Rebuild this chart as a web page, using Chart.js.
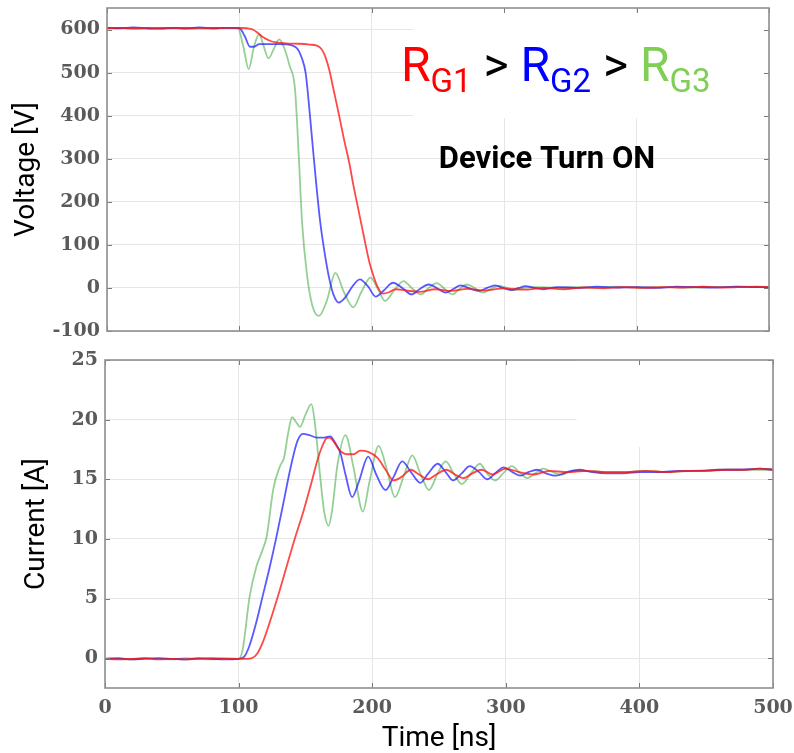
<!DOCTYPE html>
<html><head><meta charset="utf-8">
<script src="https://cdn.jsdelivr.net/npm/chart.js@4.4.1/dist/chart.umd.min.js"></script>
<style>
html,body{margin:0;padding:0;background:#fff;}
#wrap{position:relative;width:794px;height:753px;overflow:hidden;}
canvas{position:absolute;left:0;}
</style></head><body>
<div id="wrap">
<canvas id="cv" width="794" height="345" style="top:0"></canvas>
<canvas id="ci" width="794" height="408" style="top:345px"></canvas>
</div>
<script>
// ---- data (time in ns) ----
const seriesNames = ['RG1', 'RG2', 'RG3'];
const timeTicks = [0, 100, 200, 300, 400, 500];
const voltageTicks = [-100, 0, 100, 200, 300, 400, 500, 600];
const currentTicks = [0, 5, 10, 15, 20, 25];

// Voltage [V]
const tV_RG1 = [0,10,20,30,40,50,60,70,80,90, 100,106,110,114,118,123,128,135,145,153, 158,161,163,165,168,171,175,179,183,186, 190,194,198,201,204,208,213,218,226,236, 248,260,272,285,300,315,330,345,360,375, 390,405,420,435,450,465,480,490,500];
const V_RG1  = [603,604,602,604,603,604,602,604,603,604, 604,603,600,592,582,574,570,568,567,565, 563,558,550,536,505,462,405,345,290,240, 180,120,62,30,5,-13,-10,-3,-6,-9, -3,-7,-2,-6,-1,-4,0,-3,1,-1, 2,0,2,1,3,1,2,3,2];

const tV_RG2 = [0,10,20,30,40,50,60,70,80,90, 100,104,108,111,115,120,130,140,144,147, 150,153,156,161,165,168,171,175,180,185, 191,197,203,209,216,223,230,236,243,250, 256,262,267,274,281,287,293,299,305,311, 316,323,330,340,355,370,385,400,415,430, 445,460,475,490,500];
const V_RG2  = [604,603,605,603,602,604,603,605,603,604, 603,585,560,560,566,566,566,563,555,535, 500,410,308,154,70,20,-15,-34,-22,2, 20,4,-20,-6,12,0,-15,-3,8,-2, -11,-2,6,-1,-7,0,6,0,-5,0, 4,0,-3,2,0,3,1,2,0,3, 2,1,3,2,2];

const tV_RG3 = [0,10,20,30,40,50,60,70,80,90, 99,103,107,111,115,118,122,126,130,134, 138,142,144.8,147.3,151,155,160,166,172.5,179, 186,192,199,205,210,217,224,230,237,243, 249,255,261,266,272,278,284,290,296,302, 307,315,325,340,355,370,385,400,420,440, 460,480,500];
const V_RG3  = [603,604,603,602,604,603,604,602,603,604, 603,560,508,560,589,565,533,555,577,556, 515,462,309,154,32,-40,-65,-30,35,-10, -45,-10,24,-5,-30,-5,16,0,-15,0, 11,-2,-15,-3,8,-1,-11,-2,5,0, -5,0,2,0,2,1,3,1,2,1, 2,3,1];

// Current [A]
const tI_RG1 = [0,10,20,30,40,50,60,70,80,90, 100,106,110,114,118,123,130,136,142,148.5, 154,159,162,165.5,168,171,175,181,186,191, 197,204,210,216,222,229,235,241.7,248,255.5, 262,268,275,282,290,300,310,321,333,346, 360,375,390,405,420,435,450,465,480,490, 500];
const I_RG1  = [-0.05,-0.1,-0.05,0,-0.1,-0.05,-0.1,-0.05,0,-0.05, -0.05,-0.05,0,0.4,1.3,2.9,5.4,7.7,10.0,12.3, 14.5,16.6,17.6,18.4,18.5,18.2,17.5,17.1,17.1,17.4, 17.3,16.8,15.8,14.9,15.2,15.8,15.4,15.0,15.4,15.8, 15.4,15.1,15.5,15.8,15.4,15.9,15.6,15.4,15.7,15.6, 15.7,15.6,15.6,15.7,15.6,15.7,15.7,15.8,15.8,15.9, 15.8];

const tI_RG2 = [0,10,20,30,40,50,60,70,80,90, 100,104,108,113,118,123,128,133.5,138,141, 144,148,153,158.6,164,168.7,172,176.2,180,185, 190,197,203,210,216,222.5,229,236,242,249, 255,260.5,267,273,280,286,292,298.3,305,311, 317,323.4,330,337.5,346,355,365,375,388,400, 415,430,445,460,475,490,500];
const I_RG2  = [-0.05,0,-0.1,-0.05,0,-0.05,-0.1,0,-0.05,-0.1, -0.05,0.1,1.0,2.9,5.2,7.5,10.0,13.0,15.5,17.0, 18.2,18.8,18.7,18.5,18.5,18.6,18.1,17.2,15.4,13.5, 14.8,16.9,15.4,14.1,15.2,16.5,15.6,14.7,15.5,16.3, 15.6,14.9,15.5,16.1,15.6,15.0,15.5,16.0,15.6,15.3, 15.6,15.8,15.5,15.3,15.6,15.8,15.6,15.5,15.5,15.6, 15.6,15.7,15.7,15.8,15.8,15.9,15.8];

const tI_RG3 = [0,10,20,30,40,50,60,70,80,90, 100,103,108.3,113.4,118,121,126,131,134,137, 140,143,146,150,154.5,157,161,164,167.4,170, 174,180,186,193,198,204.8,211,217,224,230, 236,242.5,249,255,261,267,274,280.5,286,292, 298,304.5,310,316,322,328,335,342,350,360, 375,390,405,420,440,460,480,500];
const I_RG3  = [0,-0.05,-0.1,0,-0.05,-0.1,0,-0.05,-0.1,0, -0.05,0.7,5.2,7.7,9.1,10.2,14.2,16.1,16.8,18.8, 20.2,19.8,19.4,20.4,21.3,19.8,15.3,12.3,11.1,12.4, 16.2,18.7,16.0,12.3,14.8,17.8,15.8,13.5,15.4,17.0, 15.5,14.1,15.5,16.5,15.5,14.6,15.5,16.3,15.5,14.9, 15.5,16.1,15.6,15.1,15.5,15.9,15.6,15.4,15.7,15.7, 15.6,15.6,15.7,15.6,15.7,15.8,15.8,15.8];

// ---- styling ----
const lineColors = ['rgba(255,20,20,0.78)', 'rgba(25,25,255,0.72)', 'rgba(60,170,60,0.55)'];
const gridColor = '#e6e6e6';
const tickFont = {family: 'DejaVu Serif', size: 19, weight: 'bold'};
const tickColor = '#5a5a5a';
const titleFont = {family: 'Roboto', size: 28, lineHeight: 1};

const pts = (t, v) => t.map((x, i) => ({x: x, y: v[i]}));
const ds = (label, t, v, c) => ({label, data: pts(t, v), borderColor: c, borderWidth: 1.8,
  pointRadius: 0, fill: false, cubicInterpolationMode: 'monotone'});
const noPad = (s) => { s.paddingTop = 0; s.paddingBottom = 0; s.paddingLeft = 0; s.paddingRight = 0; };

// frame: white cover box, full box border, inward ticks
const framePlugin = {
  id: 'frame',
  beforeDatasetsDraw(chart, args, opts) {
    const b = opts.blank; if (!b) return;
    const {ctx, scales: {x, y}} = chart;
    const x0 = x.getPixelForValue(b[0]), x1 = x.getPixelForValue(b[1]);
    const yA = y.getPixelForValue(b[2]), yB = y.getPixelForValue(b[3]);
    ctx.save(); ctx.fillStyle = '#fff';
    ctx.fillRect(x0, Math.min(yA, yB), x1 - x0, Math.abs(yB - yA)); ctx.restore();
  },
  afterDatasetsDraw(chart, args, opts) {
    const {ctx, chartArea: a, scales: {x, y}} = chart;
    ctx.save();
    ctx.strokeStyle = '#7a7a7a'; ctx.lineWidth = 1;
    const L = 5;
    ctx.beginPath();
    for (const t of opts.xt) {
      const px = Math.round(x.getPixelForValue(t)) + 0.5;
      ctx.moveTo(px, a.top); ctx.lineTo(px, a.top + L);
      ctx.moveTo(px, a.bottom); ctx.lineTo(px, a.bottom - L);
    }
    for (const t of opts.yt) {
      const py = Math.round(y.getPixelForValue(t)) + 0.5;
      ctx.moveTo(a.left, py); ctx.lineTo(a.left + L, py);
      ctx.moveTo(a.right, py); ctx.lineTo(a.right - L, py);
    }
    ctx.stroke();
    ctx.strokeStyle = '#8f8f8f'; ctx.lineWidth = 1.6;
    ctx.strokeRect(a.left, a.top, a.right - a.left, a.bottom - a.top);
    ctx.restore();
  }
};

const notePlugin = {
  id: 'note',
  afterDraw(chart) {
    const ctx = chart.ctx;
    ctx.save();
    ctx.textBaseline = 'alphabetic'; ctx.textAlign = 'left';
    const base = 81, sub = 92;
    const parts = [
      ['R', '#ff0000', 48, base], ['G1', '#ff0000', 33, sub], [' > ', '#000000', 48, base],
      ['R', '#0000ff', 48, base], ['G2', '#0000ff', 33, sub], [' > ', '#000000', 48, base],
      ['R', '#7fcf56', 48, base], ['G3', '#7fcf56', 33, sub]
    ];
    let xx = 401;
    for (const [t, c, s, b] of parts) {
      ctx.font = s + 'px Roboto'; ctx.fillStyle = c;
      ctx.fillText(t, xx, b); xx += ctx.measureText(t).width;
    }
    ctx.font = 'bold 31px Roboto'; ctx.fillStyle = '#000'; ctx.textAlign = 'center';
    ctx.fillText('Device Turn ON', 547, 168);
    ctx.restore();
  }
};

const baseX = (showTicks) => ({
  type: 'linear', min: 0, max: 500,
  ticks: {display: showTicks, stepSize: 100, color: tickColor, font: tickFont, padding: 9, maxRotation: 0},
  grid: {color: gridColor, drawTicks: false},
  border: {display: false}
});

new Chart(document.getElementById('cv'), {
  type: 'line',
  data: {datasets: [
    ds(seriesNames[0], tV_RG1, V_RG1, lineColors[0]),
    ds(seriesNames[1], tV_RG2, V_RG2, lineColors[1]),
    ds(seriesNames[2], tV_RG3, V_RG3, lineColors[2])
  ]},
  options: {
    responsive: false, animation: false, events: [],
    layout: {padding: {left: 0, top: 8, right: 25, bottom: 14}},
    plugins: {legend: {display: false}, tooltip: {enabled: false},
      frame: {blank: [231, 500, 640, 394], xt: timeTicks, yt: voltageTicks}},
    scales: {
      x: Object.assign(baseX(false), {afterFit(s) { s.height = 0; noPad(s); }}),
      y: {
        min: -100, max: 650,
        afterFit(s) { s.width = 107; noPad(s); },
        ticks: {stepSize: 100, includeBounds: false, padding: 7, color: tickColor, font: tickFont},
        grid: {color: gridColor, drawTicks: false},
        border: {display: false},
        title: {display: true, text: 'Voltage [V]', color: '#000', font: titleFont, padding: {top: 13, bottom: 0}}
      }
    }
  },
  plugins: [framePlugin, notePlugin]
});

new Chart(document.getElementById('ci'), {
  type: 'line',
  data: {datasets: [
    ds(seriesNames[0], tI_RG1, I_RG1, lineColors[0]),
    ds(seriesNames[1], tI_RG2, I_RG2, lineColors[1]),
    ds(seriesNames[2], tI_RG3, I_RG3, lineColors[2])
  ]},
  options: {
    responsive: false, animation: false, events: [],
    layout: {padding: {left: 0, top: 15, right: 21, bottom: 0}},
    plugins: {legend: {display: false}, tooltip: {enabled: false},
      frame: {blank: [353, 500, 25, 17.7], xt: timeTicks, yt: currentTicks}},
    scales: {
      x: Object.assign(baseX(true), {
        afterFit(s) { s.height = 65; noPad(s); },
        title: {display: true, text: 'Time [ns]', color: '#000', font: titleFont, padding: {top: 0, bottom: 0}}
      }),
      y: {
        min: -2.5, max: 25,
        afterFit(s) { s.width = 105; noPad(s); },
        ticks: {stepSize: 5, includeBounds: false, padding: 7, color: tickColor, font: tickFont},
        grid: {color: gridColor, drawTicks: false},
        border: {display: false},
        title: {display: true, text: 'Current [A]', color: '#000', font: titleFont, padding: {top: 23, bottom: 0}}
      }
    }
  },
  plugins: [framePlugin]
});
</script>
</body></html>
